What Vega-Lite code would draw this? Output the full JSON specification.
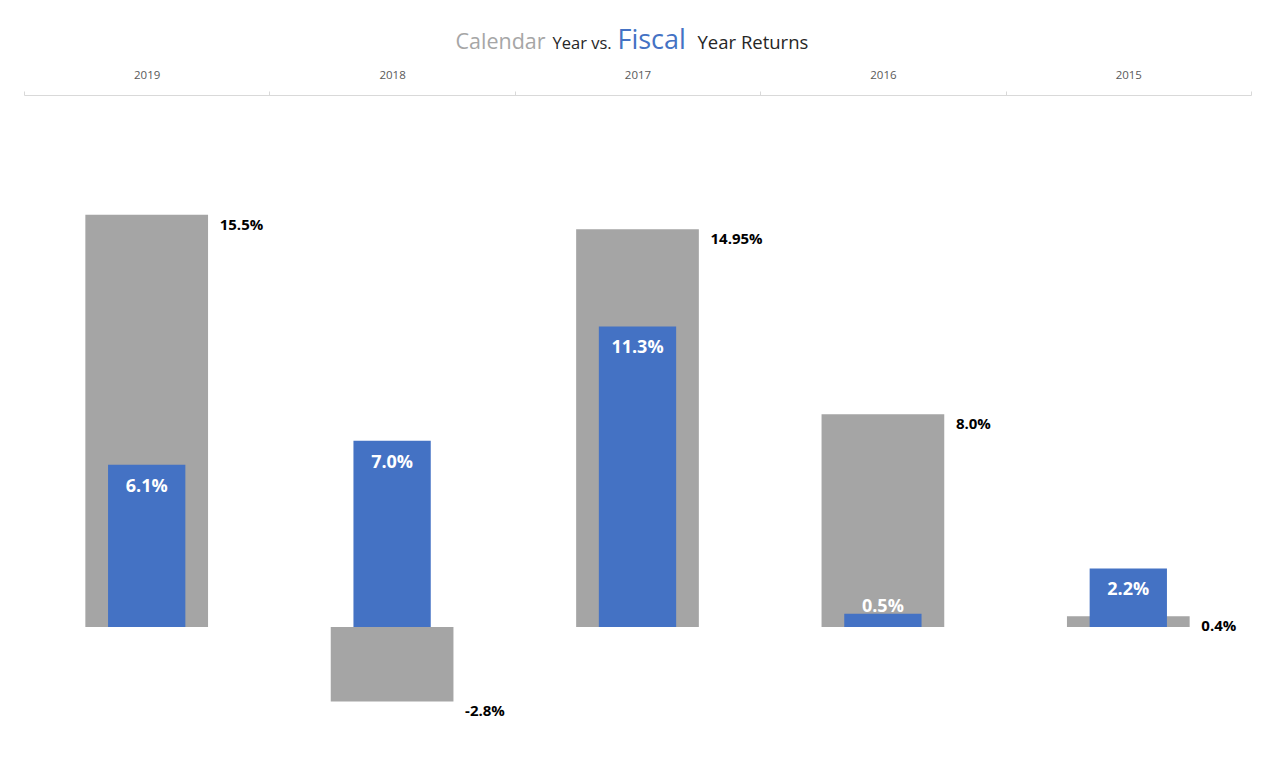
{
  "$schema": "https://vega.github.io/schema/vega-lite/v6.json",
  "autosize": "none",
  "width": 1227,
  "height": 665,
  "padding": {"left": 24, "top": 95, "right": 15, "bottom": 10},
  "background": "white",
  "config": {"view": {"stroke": null}, "font": "Open Sans"},
  "data": {
    "values": [
      {"year": "2019", "calendar": 15.5, "fiscal": 6.1, "calLabel": "15.5%", "fisLabel": "6.1%"},
      {"year": "2018", "calendar": -2.8, "fiscal": 7.0, "calLabel": "-2.8%", "fisLabel": "7.0%"},
      {"year": "2017", "calendar": 14.95, "fiscal": 11.3, "calLabel": "14.95%", "fisLabel": "11.3%"},
      {"year": "2016", "calendar": 8.0, "fiscal": 0.5, "calLabel": "8.0%", "fisLabel": "0.5%"},
      {"year": "2015", "calendar": 0.4, "fiscal": 2.2, "calLabel": "0.4%", "fisLabel": "2.2%"}
    ]
  },
  "encoding": {
    "x": {
      "field": "year", "type": "nominal",
      "sort": ["2019", "2018", "2017", "2016", "2015"],
      "scale": {"paddingInner": 0, "paddingOuter": 0}
    }
  },
  "resolve": {"axis": {"x": "independent", "y": "independent"}},
  "layer": [
    {
      "mark": {"type": "bar", "color": "#A5A5A5", "width": {"band": 0.5}},
      "encoding": {
        "x": {
          "field": "year", "type": "nominal",
          "sort": ["2019", "2018", "2017", "2016", "2015"],
          "scale": {"paddingInner": 0, "paddingOuter": 0},
          "axis": {
            "orient": "top", "labelAngle": 0, "labelColor": "#595959", "labelFontSize": 11.5,
            "labelPadding": 11, "domainColor": "#D9D9D9", "tickColor": "#D9D9D9", "tickSize": 4,
            "tickBand": "extent",
            "title": "Calendar", "titleColor": "#A6A6A6", "titleFontSize": 21.5, "titleFontWeight": "normal",
            "titleX": 431, "titleY": -47, "titleAlign": "left", "titleBaseline": "alphabetic", "titleAnchor": null
          }
        },
        "y": {
          "field": "calendar", "type": "quantitative",
          "scale": {"domain": [-5, 20], "nice": false, "zero": true},
          "axis": {
            "labels": false, "ticks": false, "domain": false, "grid": false,
            "title": "Fiscal", "titleAngle": 0, "titleColor": "#4472C4", "titleFontSize": 27, "titleFontWeight": "normal",
            "titleX": 593, "titleY": -47, "titleAlign": "left", "titleBaseline": "alphabetic"
          }
        }
      }
    },
    {
      "mark": {"type": "bar", "color": "#4472C4", "width": {"band": 0.315}},
      "encoding": {
        "x": {
          "field": "year", "type": "nominal",
          "sort": ["2019", "2018", "2017", "2016", "2015"],
          "scale": {"paddingInner": 0, "paddingOuter": 0},
          "axis": {
            "orient": "bottom", "labels": false, "ticks": false, "domain": false,
            "title": "Year vs.", "titleColor": "#262626", "titleFontSize": 16.5, "titleFontWeight": "normal",
            "titleX": 528, "titleY": -712, "titleAlign": "left", "titleBaseline": "alphabetic", "titleAnchor": null
          }
        },
        "y": {
          "field": "fiscal", "type": "quantitative",
          "scale": {"domain": [-5, 20], "nice": false, "zero": true},
          "axis": {
            "orient": "right", "labels": false, "ticks": false, "domain": false, "grid": false,
            "title": "Year Returns", "titleAngle": 0, "titleColor": "#262626", "titleFontSize": 18.5, "titleFontWeight": "normal",
            "titleX": -554, "titleY": -47, "titleAlign": "left", "titleBaseline": "alphabetic"
          }
        }
      }
    },
    {
      "mark": {"type": "text", "align": "left", "baseline": "middle", "dx": 73, "dy": 10, "fontSize": 15, "fontWeight": "bold", "color": "#000000"},
      "encoding": {
        "x": {"field": "year", "type": "nominal", "sort": ["2019", "2018", "2017", "2016", "2015"], "axis": null},
        "y": {"field": "calendar", "type": "quantitative", "axis": null},
        "text": {"field": "calLabel"}
      }
    },
    {
      "transform": [{"filter": "datum.fiscal >= 1"}],
      "mark": {"type": "text", "align": "center", "baseline": "middle", "dy": 22, "fontSize": 18, "fontWeight": "bold", "color": "#FFFFFF"},
      "encoding": {
        "x": {"field": "year", "type": "nominal", "sort": ["2019", "2018", "2017", "2016", "2015"], "axis": null},
        "y": {"field": "fiscal", "type": "quantitative", "axis": null},
        "text": {"field": "fisLabel"}
      }
    },
    {
      "transform": [{"filter": "datum.fiscal < 1"}],
      "mark": {"type": "text", "align": "center", "baseline": "middle", "dy": -7, "fontSize": 18, "fontWeight": "bold", "color": "#FFFFFF"},
      "encoding": {
        "x": {"field": "year", "type": "nominal", "sort": ["2019", "2018", "2017", "2016", "2015"], "axis": null},
        "y": {"field": "fiscal", "type": "quantitative", "axis": null},
        "text": {"field": "fisLabel"}
      }
    }
  ]
}
